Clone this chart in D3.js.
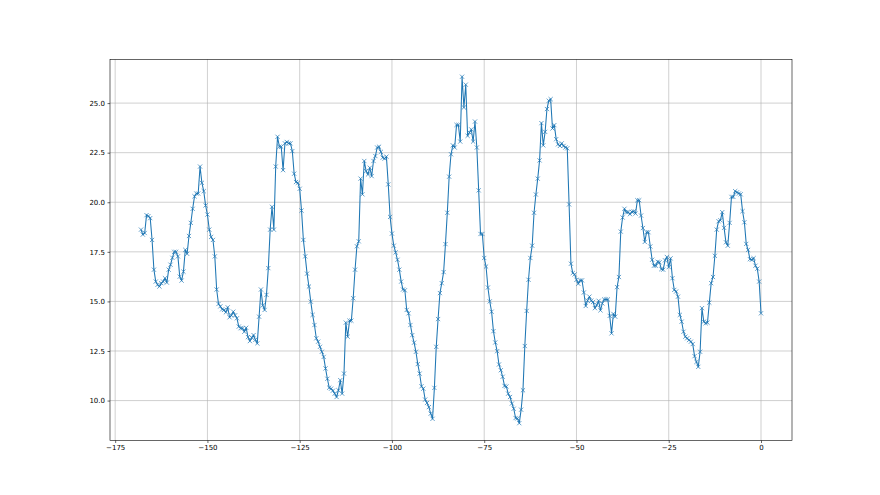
<!DOCTYPE html>
<html>
<head>
<meta charset="utf-8">
<script src="https://cdn.jsdelivr.net/npm/d3@7"></script>
<style>
  html, body { margin: 0; padding: 0; background: #fff; }
  svg { display: block; }
  .tick text { font-family: "DejaVu Sans", sans-serif; font-size: 7px; fill: #000; }
</style>
</head>
<body>
<svg id="chart" width="880" height="495"></svg>
<script>
// hours before now, 30 min steps
const X_START = -168;
const X_STEP = 0.5;

// readings, in order, split by stretch of the week
const day1 = [18.62, 18.37, 18.45, 19.35, 19.3, 19.2, 18.1, 16.6, 16.0, 15.84, 15.75, 15.92, 16.0, 16.17, 15.95,
  16.6, 16.85, 17.2, 17.5, 17.5, 17.27, 16.25, 16.05, 16.5, 17.6, 17.4, 18.3, 18.96, 19.67, 20.3, 20.44, 20.44,
  21.8, 20.98, 20.56, 19.84, 19.38, 18.62, 18.25, 18.1, 17.27, 15.6, 14.87];
const day2 = [14.75, 14.6, 14.57, 14.45, 14.7, 14.2, 14.3, 14.48, 14.3, 14.15, 13.73, 13.65, 13.65, 13.47, 13.67,
  13.2, 13.0, 13.17, 13.3, 13.07, 12.88, 14.23, 15.6, 14.8, 14.57, 15.33, 16.68, 18.62, 19.77, 18.62, 21.8, 23.3,
  22.8, 22.8, 21.62, 22.97, 23.04, 22.97, 22.97];
const day3 = [22.58, 21.44, 21.02, 20.98, 20.68, 19.58, 18.1, 17.27, 16.4, 15.75, 14.99, 14.32, 13.81, 13.14, 12.97,
  12.71, 12.46, 12.2, 11.62, 11.1, 10.65, 10.6, 10.5, 10.35, 10.18, 10.52, 11.03, 10.35, 11.36, 13.93, 13.22, 14.03,
  14.03, 15.16, 16.6, 17.78, 18.03];
const day4 = [21.19, 20.4, 22.08, 21.57, 21.4, 21.74, 21.32, 22.08, 22.33, 22.76, 22.8, 22.54, 22.25, 22.2, 22.3,
  20.9, 19.26, 18.42, 17.81, 17.47, 17.1, 16.6, 16.0, 15.6, 15.56, 14.57, 14.4, 13.81, 13.3, 12.92, 12.46, 11.84,
  11.36, 10.72, 10.6, 10.05, 9.88, 9.67, 9.34, 9.08];
const day5 = [10.64, 12.71, 14.11, 15.42, 15.92, 16.48, 17.89, 19.47, 21.29, 22.42, 22.87, 22.76, 23.9, 23.9, 23.06,
  26.33, 24.78, 25.93, 23.35, 23.52, 23.67, 23.06, 24.07, 22.76, 20.6, 18.4, 18.4, 17.19, 16.76, 15.7, 15.0, 14.48,
  13.5, 12.93, 12.49, 11.82, 11.53, 11.2, 10.74, 10.71, 10.35, 10.18, 9.85, 9.59, 9.12, 9.1];
const day6 = [8.86, 9.54, 10.52, 12.75, 14.52, 16.09, 17.19, 17.81, 19.47, 20.39, 21.19, 22.11, 23.99, 22.87, 23.55,
  24.7, 25.12, 25.2, 23.72, 23.89, 23.18, 22.92, 22.84, 22.97, 22.84, 22.76, 22.72, 19.89, 16.9, 16.43, 16.36,
  16.09, 15.89, 16.06, 16.06, 15.45, 14.77, 15.04, 15.24, 15.04, 14.97, 14.66];
const day7 = [14.82, 15.03, 14.55, 14.9, 15.1, 15.1, 15.1, 14.27, 13.39, 14.37, 14.23, 15.72, 16.23, 18.52, 19.23,
  19.67, 19.5, 19.5, 19.4, 19.52, 19.54, 19.43, 20.1, 20.1, 19.33, 18.7, 18.0, 18.49, 18.49, 17.77, 17.1, 16.8,
  16.8, 17.0, 16.97, 16.63, 16.6, 17.07, 17.24, 16.73, 17.17];
const day8 = [16.17, 15.58, 15.5, 15.24, 14.32, 13.98, 13.47, 13.22, 13.14, 13.05, 12.97, 12.85, 12.24, 11.95, 11.7,
  12.46, 14.66, 13.98, 13.9, 13.93, 14.94, 15.92, 16.23, 17.3, 18.62, 19.04, 19.09, 19.5, 18.71, 17.98, 17.81,
  18.96, 20.27, 20.27, 20.56, 20.5, 20.44, 20.4, 19.55, 18.99, 17.9, 17.6, 17.13, 17.1, 17.18, 16.8, 16.65, 16.0, 14.4];

const xTicks = [-175, -150, -125, -100, -75, -50, -25, 0];
const yTicks = [10.0, 12.5, 15.0, 17.5, 20.0, 22.5, 25.0];

const values = [].concat(day1, day2, day3, day4, day5, day6, day7, day8);
const points = values.map((v, i) => ({ x: X_START + i * X_STEP, y: v }));

const WIDTH = 880, HEIGHT = 495;
const MARGIN = { left: 110, right: 88, top: 59.4, bottom: 54.5 };
const LINE_COLOR = "#1f77b4";
const GRID_COLOR = "#b0b0b0";

// matplotlib style 5% padding
function padded(extent) {
  const pad = (extent[1] - extent[0]) * 0.05;
  return [extent[0] - pad, extent[1] + pad];
}

const svg = d3.select("#chart");
const x = d3.scaleLinear()
  .domain(padded(d3.extent(points, d => d.x)))
  .range([MARGIN.left, WIDTH - MARGIN.right]);
const y = d3.scaleLinear()
  .domain(padded(d3.extent(points, d => d.y)))
  .range([HEIGHT - MARGIN.bottom, MARGIN.top]);

const fmtX = d => d3.format("d")(d).replace("-", "\u2212");
const fmtY = d => d3.format(".1f")(d).replace("-", "\u2212");

// grid
svg.append("g")
  .selectAll("line")
  .data(xTicks)
  .join("line")
  .attr("x1", d => x(d)).attr("x2", d => x(d))
  .attr("y1", MARGIN.top).attr("y2", HEIGHT - MARGIN.bottom)
  .attr("stroke", GRID_COLOR).attr("stroke-width", 0.6);
svg.append("g")
  .selectAll("line")
  .data(yTicks)
  .join("line")
  .attr("x1", MARGIN.left).attr("x2", WIDTH - MARGIN.right)
  .attr("y1", d => y(d)).attr("y2", d => y(d))
  .attr("stroke", GRID_COLOR).attr("stroke-width", 0.6);

// axes
const xAxis = svg.append("g")
  .attr("transform", `translate(0,${HEIGHT - MARGIN.bottom})`)
  .call(d3.axisBottom(x).tickValues(xTicks).tickFormat(fmtX).tickSizeOuter(0).tickSize(2.5).tickPadding(2.5));
const yAxis = svg.append("g")
  .attr("transform", `translate(${MARGIN.left},0)`)
  .call(d3.axisLeft(y).tickValues(yTicks).tickFormat(fmtY).tickSizeOuter(0).tickSize(2.5).tickPadding(2.5));
[xAxis, yAxis].forEach(g => {
  g.select(".domain").remove();
  g.selectAll(".tick line").attr("stroke", "#000").attr("stroke-width", 0.6);
});

// line + x markers
svg.append("path")
  .datum(points)
  .attr("fill", "none")
  .attr("stroke", LINE_COLOR)
  .attr("stroke-width", 1.05)
  .attr("stroke-linejoin", "round")
  .attr("d", d3.line().x(d => x(d.x)).y(d => y(d.y)));

const M = 2.1;
svg.append("g")
  .selectAll("path")
  .data(points)
  .join("path")
  .attr("transform", d => `translate(${x(d.x)},${y(d.y)})`)
  .attr("d", `M${-M},${-M}L${M},${M}M${-M},${M}L${M},${-M}`)
  .attr("stroke", LINE_COLOR)
  .attr("stroke-width", 0.7)
  .attr("fill", "none");

// frame
svg.append("rect")
  .attr("x", MARGIN.left).attr("y", MARGIN.top)
  .attr("width", WIDTH - MARGIN.left - MARGIN.right)
  .attr("height", HEIGHT - MARGIN.top - MARGIN.bottom)
  .attr("fill", "none")
  .attr("stroke", "#000")
  .attr("stroke-width", 0.6);
</script>
</body>
</html>
